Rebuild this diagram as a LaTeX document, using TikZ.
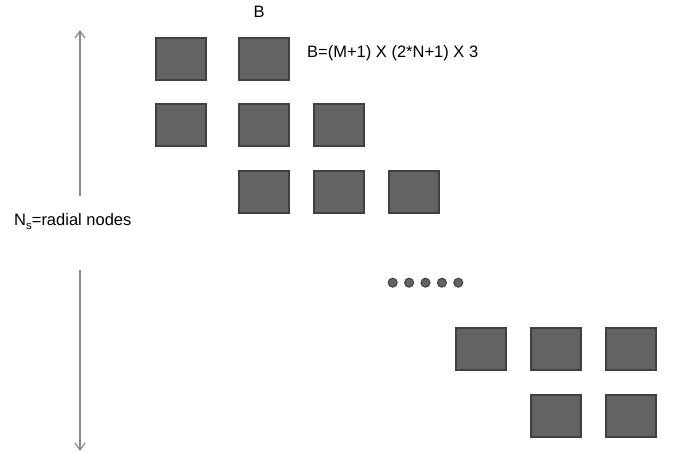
\documentclass[tikz,border=0pt]{standalone}
\usepackage{fontspec}
\setmainfont{Liberation Sans}
\usetikzlibrary{arrows.meta}
\definecolor{cellfill}{HTML}{636363}
\definecolor{celledge}{HTML}{404040}
\definecolor{axisgray}{HTML}{8A8A8A}
\begin{document}
\begin{tikzpicture}[x=1pt,y=-1pt,
  cell/.style={draw=celledge,fill=cellfill,line width=1.8pt,minimum width=50pt,minimum height=42pt,inner sep=0pt,anchor=north west},
  dotmark/.style={circle,fill=cellfill,draw=celledge,line width=1pt,minimum size=9pt,inner sep=0pt},
  axis/.style={draw=axisgray,line width=1.2pt,-{Straight Barb[length=7pt,width=10pt]}},
  lbl/.style={inner sep=0pt,font=\fontsize{16.5}{19}\selectfont}]
\useasboundingbox (0,0) rectangle (674,454);
% band of nonzero blocks
\node[cell] (r1c1) at (155,37) {};
\node[cell] (r1c2) at (238,37) {};
\node[cell] (r2c1) at (155,103) {};
\node[cell] (r2c2) at (238,103) {};
\node[cell] (r2c3) at (313,103) {};
\node[cell] (r3c2) at (238,170) {};
\node[cell] (r3c3) at (313,170) {};
\node[cell] (r3c4) at (388,170) {};
\node[cell] (r4c5) at (455,327) {};
\node[cell] (r4c6) at (530,327) {};
\node[cell] (r4c7) at (605,327) {};
\node[cell] (r5c6) at (530,394) {};
\node[cell] (r5c7) at (605,394) {};
% continuation dots
\foreach \i in {0,...,4}
  \node[dotmark] (d\i) at (392.7+16.4*\i,282.7) {};
% labels
\node[lbl] (bname) at (259,12) {B};
\node[lbl,anchor=west] (bsize) at (307,53) {B=(M+1) X (2*N+1) X 3};
\node[lbl,anchor=base west] (nsl) at (14,226) {N\raisebox{-4pt}{\fontsize{11.5}{12}\selectfont s}=radial nodes};
% vertical extent arrows
\coordinate (upA) at (80,196);
\coordinate (upB) at (80,30);
\coordinate (dnA) at (80,270);
\coordinate (dnB) at (80,451);
\draw[axis] (upA) -- (upB);
\draw[axis] (dnA) -- (dnB);
\end{tikzpicture}
\end{document}
